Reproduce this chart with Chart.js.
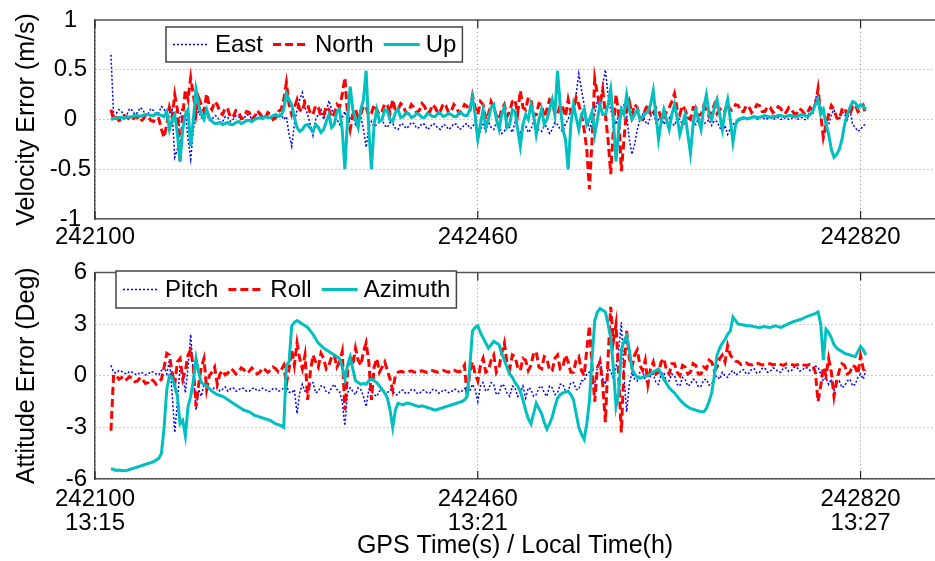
<!DOCTYPE html>
<html>
<head>
<meta charset="utf-8">
<script src="https://cdn.jsdelivr.net/npm/chart.js@4.4.1/dist/chart.umd.min.js"></script>
<style>
  html, body { margin: 0; padding: 0; background: #fff; overflow: hidden; width: 935px; height: 561px; }
  canvas { position: absolute; left: 0; }
  #vel { top: 0; }
  #att { top: 250px; }
</style>
</head>
<body>
<canvas id="vel" width="935" height="250"></canvas>
<canvas id="att" width="935" height="311"></canvas>
<script>
// GPS time axis: one sample every 2.5 s starting at 242115
var T0 = 242115, DT = 2.5;
var xTicks = [242100, 242460, 242820];
var localTimes = ['13:15', '13:21', '13:27'];
var velTicks = [-1, -0.5, 0, 0.5, 1];
var attTicks = [-6, -3, 0, 3, 6];

// velocity error (m/s)
var east = [
  0.65,0.04, 0.06,0.10, 0.08,0.04, 0.05,0.11, 0.09,0.05,
  0.07,0.12, 0.10,0.04, 0.06,0.11, 0.09,0.05, 0.07,0.13,
  0.11,0.03, 0.06,0.10, -0.38,-0.30, 0.05,0.12, 0.10,-0.20,
  -0.40,-0.10, 0.05,0.08, 0.02,0.07, 0.06,-0.01, 0.00,0.04,
  0.03,-0.03, -0.02,0.03, 0.02,-0.02, 0.00,0.04, 0.03,0.00,
  0.01,0.05, 0.04,0.01, 0.02,0.06, 0.05,0.02, 0.03,0.06,
  0.04,0.01, 0.02,0.06, 0.05,0.00, 0.03,-0.15, -0.27,-0.05,
  0.10,0.20, 0.27,0.12, 0.05,-0.05, -0.16,0.00, 0.05,0.10,
  0.00,0.08, 0.19,0.10, 0.05,0.00, -0.05,0.02, 0.08,-0.02,
  0.02,0.06, -0.05,0.00, 0.03,-0.10, -0.28,-0.08, -0.02,-0.07,
  -0.05,-0.02, 0.00,-0.06, -0.08,-0.03, -0.04,-0.09, -0.10,-0.04,
  -0.05,-0.09, -0.07,-0.03, -0.04,-0.09, -0.08,-0.04, -0.05,-0.10,
  -0.08,-0.04, -0.05,-0.09, -0.10,-0.05, -0.06,-0.10, -0.08,-0.04,
  -0.05,-0.10, -0.09,-0.05, -0.04,-0.09, -0.08,-0.02, -0.23,-0.10,
  -0.05,-0.12, -0.02,-0.08, -0.10,-0.03, -0.05,-0.14, -0.12,-0.04,
  -0.08,-0.13, -0.03,-0.09, -0.15,-0.05, -0.06,-0.13, -0.10,-0.02,
  -0.04,-0.11, -0.12,-0.06, -0.07,-0.14, -0.10,-0.03, -0.05,-0.10,
  -0.12,-0.04, 0.00,0.10, 0.05,0.25, 0.46,0.30, 0.15,0.00,
  -0.10,-0.02, 0.05,0.20, 0.10,0.35, 0.50,0.25, 0.10,0.00,
  -0.05,0.05, 0.12,0.15, 0.05,-0.20, -0.35,-0.25, -0.10,0.00,
  0.05,-0.02, -0.05,0.03, 0.08,-0.03, 0.00,0.04, -0.05,0.00,
  0.02,-0.04, -0.06,0.02, 0.00,-0.05, -0.04,0.02, 0.03,-0.03,
  -0.05,0.01, 0.00,-0.04, -0.03,0.00, -0.06,-0.01, -0.02,-0.08,
  -0.12,-0.06, -0.15,-0.09, -0.05,-0.02, 0.00,-0.01, 0.01,0.00,
  0.00,0.02, 0.02,0.00, 0.01,0.03, 0.00,0.01, 0.02,0.00,
  0.01,0.02, 0.00,0.01, 0.02,0.00, 0.01,0.03, 0.00,0.01,
  0.02,0.00, 0.00,0.10, 0.05,0.20, 0.29,0.12, 0.05,-0.02,
  -0.05,0.05, 0.10,0.02, 0.00,0.08, 0.05,0.00, 0.10,-0.05,
  -0.08,-0.12, -0.10,-0.06, -0.05];
var north = [
  0.10,0.00, 0.02,-0.01, 0.00,0.04, 0.03,0.00, -0.01,0.03,
  0.02,-0.02, 0.00,0.04, 0.03,-0.01, -0.02,0.02, 0.01,-0.10,
  -0.18,-0.05, 0.12,0.02, 0.25,0.10, -0.43,0.05, 0.30,0.20,
  0.42,0.25, 0.05,0.22, 0.15,0.08, 0.26,0.14, 0.10,0.18,
  0.15,0.07, 0.05,0.12, 0.10,0.02, 0.03,0.09, 0.08,0.01,
  0.02,0.08, 0.07,0.00, 0.03,0.09, 0.06,0.02, 0.01,0.07,
  0.05,0.00, 0.02,0.08, 0.10,0.20, 0.37,0.15, 0.05,0.12,
  0.20,0.10, 0.08,0.18, 0.15,0.06, 0.05,0.14, 0.12,0.03,
  0.04,0.13, 0.10,0.02, 0.06,0.15, 0.12,0.25, 0.42,0.05,
  -0.10,0.05, 0.10,0.02, 0.05,0.14, 0.12,0.04, 0.06,0.15,
  0.10,0.05, 0.08,0.16, 0.14,0.07, 0.20,0.09, 0.10,0.16,
  0.14,0.06, 0.08,0.15, 0.12,0.07, 0.09,0.16, 0.13,0.06,
  0.08,0.15, 0.12,0.06, 0.09,0.16, 0.14,0.07, 0.08,0.15,
  0.12,0.06, 0.09,0.15, 0.13,0.08, 0.24,0.12, 0.05,0.18,
  0.15,0.00, 0.05,0.18, 0.12,0.04, 0.00,0.10, 0.15,0.03,
  0.08,0.18, 0.20,0.06, 0.29,0.12, 0.10,0.22, 0.20,0.04,
  0.05,0.16, 0.15,0.02, 0.10,0.20, 0.18,0.06, 0.05,0.15,
  0.12,0.03, 0.20,0.08, 0.10,0.22, 0.15,0.05, -0.10,-0.30,
  -0.70,-0.20, 0.41,0.25, 0.15,0.30, 0.05,-0.20, -0.55,-0.10,
  0.25,0.05, -0.52,-0.20, 0.10,0.18, 0.05,0.15, 0.12,0.02,
  0.00,0.10, 0.15,0.04, 0.05,0.12, 0.10,0.00, 0.00,0.08,
  0.12,0.18, 0.26,0.10, 0.05,0.14, 0.10,0.02, 0.00,0.12,
  0.12,0.04, 0.05,0.14, 0.10,0.03, 0.08,0.15, 0.06,0.10,
  0.12,0.08, 0.16,0.09, 0.10,0.15, 0.14,0.08, 0.08,0.14,
  0.13,0.07, 0.10,0.15, 0.14,0.08, 0.08,0.13, 0.12,0.07,
  0.09,0.13, 0.11,0.06, 0.07,0.12, 0.10,0.06, 0.06,0.11,
  0.09,0.05, 0.07,0.12, 0.10,0.15, 0.31,0.05, -0.18,-0.05,
  0.05,0.14, 0.10,0.02, 0.00,0.10, 0.12,0.03, 0.05,0.13,
  0.15,0.08, 0.10,0.14, 0.05];
var up = [
  0.00,0.01, 0.01,0.02, 0.02,0.01, 0.03,0.02, 0.03,0.04,
  0.04,0.03, 0.04,0.05, 0.05,0.04, 0.04,0.06, 0.05,0.04,
  0.03,0.08, -0.10,0.00, 0.05,-0.15, -0.42,-0.10, 0.05,0.10,
  -0.27,0.00, 0.30,0.15, 0.05,0.00, 0.10,0.02, -0.02,-0.04,
  -0.04,-0.03, -0.05,-0.04, -0.03,-0.05, -0.05,-0.03, -0.02,-0.04,
  -0.03,-0.01, -0.01,-0.02, 0.00,0.01, 0.02,0.01, 0.03,0.02,
  0.02,0.04, 0.05,0.03, 0.04,0.10, 0.26,0.20, 0.15,0.02,
  -0.08,-0.12, -0.10,-0.06, -0.05,-0.09, -0.12,-0.05, -0.08,-0.13,
  -0.10,-0.02, 0.05,-0.08, -0.05,0.08, 0.10,-0.10, -0.50,0.00,
  0.33,0.10, 0.00,-0.08, 0.10,0.20, 0.49,-0.10, -0.50,-0.05,
  0.10,-0.02, 0.00,0.10, 0.08,0.00, -0.02,0.07, 0.10,0.02,
  0.03,0.07, 0.06,0.02, 0.03,0.06, 0.05,0.02, 0.02,0.06,
  0.05,0.03, 0.03,0.06, 0.06,0.03, 0.04,0.06, 0.05,0.03,
  0.03,0.07, 0.06,0.04, 0.04,0.10, 0.22,0.05, -0.20,-0.05,
  0.10,-0.08, 0.00,0.12, 0.15,0.00, -0.10,0.05, 0.12,-0.08,
  -0.05,0.10, 0.08,-0.10, -0.27,-0.05, 0.05,0.00, 0.15,0.05,
  -0.15,0.00, 0.10,-0.05, 0.00,0.10, 0.20,0.05, 0.49,0.15,
  -0.10,-0.20, -0.50,-0.05, 0.15,0.02, -0.10,0.05, 0.10,-0.05,
  0.00,0.08, -0.15,0.00, 0.15,0.05, 0.05,0.15, 0.30,0.00,
  -0.42,-0.10, 0.10,0.05, 0.25,0.10, 0.00,0.05, 0.10,0.00,
  0.02,0.06, 0.08,0.15, 0.29,0.05, -0.20,-0.02, 0.10,0.00,
  -0.10,0.05, 0.15,0.02, -0.15,-0.05, 0.05,-0.15, -0.34,-0.05,
  0.10,0.00, -0.10,0.12, 0.25,0.05, 0.00,0.12, 0.20,0.05,
  -0.10,0.08, 0.20,0.00, -0.23,-0.05, 0.00,0.01, 0.02,0.01,
  0.01,0.02, 0.03,0.02, 0.02,0.03, 0.04,0.03, 0.02,0.03,
  0.03,0.04, 0.04,0.03, 0.03,0.04, 0.04,0.03, 0.03,0.04,
  0.05,0.04, 0.03,0.05, 0.08,0.15, 0.20,0.05, 0.10,-0.05,
  -0.15,-0.30, -0.38,-0.35, -0.30,-0.20, -0.05,0.05, 0.12,0.18,
  0.17,0.12, 0.15,0.13, 0.10];

// attitude error (deg)
var pitch = [
  0.60,0.20, 0.15,0.30, 0.25,0.15, 0.10,0.25, 0.20,0.10,
  0.05,0.20, 0.15,0.05, 0.10,0.25, 0.20,0.10, 0.05,0.30,
  0.50,0.10, 0.90,-1.00, -3.30,-1.50, 0.50,0.20, -1.00,0.50,
  2.40,0.00, -2.00,-0.80, -1.20,-0.50, -0.60,-0.80, -0.90,-0.65,
  -0.70,-0.90, -0.80,-0.65, -0.90,-0.75, -0.70,-0.90, -0.85,-0.70,
  -0.75,-0.90, -0.90,-0.75, -0.70,-0.88, -0.85,-0.72, -0.80,-0.92,
  -0.90,-0.75, -0.75,-0.90, -0.85,-0.70, -0.60,-0.95, -1.00,-0.80,
  -2.20,-1.00, -0.50,-0.90, -0.80,-0.50, -0.40,-1.00, -0.90,-0.60,
  -0.60,-0.95, -1.00,-0.70, -0.50,-0.80, -0.90,-1.50, -2.90,-1.00,
  -0.70,-0.90, -1.10,-0.70, -0.80,-1.20, -1.80,-0.80, -0.90,-1.10,
  -1.20,-0.90, -0.80,-1.05, -1.00,-0.80, -0.90,-1.10, -1.10,-0.85,
  -0.85,-1.05, -1.00,-0.80, -0.80,-1.00, -1.05,-0.85, -0.85,-1.00,
  -1.00,-0.80, -0.80,-1.00, -1.00,-0.82, -0.85,-0.98, -0.95,-0.78,
  -0.80,-0.95, -0.90,-0.75, -0.70,-0.90, -0.50,-0.80, -1.50,-0.60,
  -0.40,-0.90, -0.80,-0.40, -0.50,-1.10, -1.00,-0.50, -0.60,-1.00,
  -1.20,-0.60, -0.70,-1.20, -1.00,-0.60, -1.30,-0.70, -0.80,-1.20,
  -1.10,-0.70, -0.60,-1.00, -1.20,-0.60, -0.70,-1.10, -1.00,-0.50,
  -0.50,-0.90, -0.90,-0.40, -0.40,-0.80, -0.80,-0.30, -0.30,0.10,
  0.20,-0.40, -0.60,0.50, 1.00,-0.20, -0.50,0.40, 0.30,-0.20,
  0.50,1.50, 3.10,0.00, -2.10,-0.50, 0.20,-0.20, -0.30,0.20,
  0.30,-0.30, -0.40,0.00, 0.10,-0.40, -0.50,0.10, 0.20,-0.40,
  -0.30,0.10, 0.00,-0.50, -0.60,-0.10, -0.20,-0.60, -0.50,-0.20,
  -0.30,-0.65, -0.60,-0.25, -0.20,-0.55, -0.50,-0.10, 0.00,-0.20,
  0.20,0.00, -0.10,0.20, 0.30,0.05, 0.10,0.30, 0.35,0.10,
  0.15,0.38, 0.40,0.15, 0.20,0.42, 0.45,0.20, 0.25,0.45,
  0.40,0.22, 0.20,0.45, 0.45,0.25, 0.30,0.50, 0.50,0.28,
  0.30,0.48, 0.45,0.30, 0.35,0.55, 0.50,0.10, -0.30,-0.10,
  -0.50,-0.20, -0.90,-0.40, -0.30,-0.70, -0.60,-0.30, -0.20,-0.60,
  -0.50,-0.10, 0.10,-0.20, 0.30];
var roll = [
  -3.20,0.05, 0.00,-0.20, -0.10,-0.30, -0.20,-0.05, -0.15,-0.35,
  -0.30,-0.10, -0.25,-0.45, -0.40,-0.20, -0.30,-0.50, -0.35,-0.20,
  0.50,1.30, 1.20,0.20, -0.50,0.80, 1.00,-0.20, 0.30,1.20,
  1.50,0.50, -1.80,-0.50, 0.50,1.00, -0.80,0.00, 0.20,0.50,
  -0.50,0.10, 0.30,0.05, 0.15,0.40, 0.30,0.10, 0.20,0.45,
  0.35,0.15, 0.25,0.45, 0.30,0.10, 0.20,0.45, 0.35,0.20,
  0.30,0.50, 0.40,0.20, 0.30,0.60, -0.50,0.40, 1.50,0.60,
  1.90,1.00, 0.40,1.20, -1.40,0.20, 1.20,0.80, 0.50,1.30,
  1.00,0.40, 0.60,1.10, 1.20,0.50, 0.80,1.40, -2.00,0.20,
  1.20,0.60, 1.60,0.90, 0.60,1.40, 1.90,0.80, -1.40,0.50,
  1.00,0.20, 0.50,0.80, 0.30,-0.20, -0.85,0.00, 0.20,0.26,
  0.22,0.19, 0.24,0.28, 0.22,0.18, 0.25,0.29, 0.23,0.19,
  0.26,0.30, 0.24,0.20, 0.27,0.31, 0.25,0.21, 0.28,0.32,
  0.26,0.22, 0.30,0.60, -1.20,0.20, 0.80,0.10, -0.30,0.60,
  1.00,0.20, 0.30,0.90, 1.20,0.20, 0.50,1.30, 1.90,0.70,
  0.40,1.20, 1.10,0.50, 0.30,1.00, 0.90,0.30, 0.60,1.30,
  1.40,0.50, 0.40,1.10, 1.00,0.30, 0.30,1.00, 1.20,0.40,
  0.50,1.20, 0.80,0.20, 0.20,0.90, 1.10,0.30, 0.00,1.50,
  2.90,0.50, -1.50,0.50, 0.80,-0.50, -2.70,1.00, 4.00,2.00,
  3.00,0.00, -3.30,0.50, 2.60,1.00, 0.50,1.20, 1.50,0.60,
  0.30,0.90, -0.50,0.40, 0.80,0.10, 0.20,0.80, 1.00,0.30,
  0.10,0.70, 0.70,0.20, 0.00,0.60, 0.50,0.10, 0.20,0.70,
  0.60,0.10, 0.10,0.50, 0.40,0.90, 0.80,0.30, 0.50,1.00,
  1.20,0.80, 1.75,1.20, 1.00,0.85, 0.80,0.65, 0.70,0.75,
  0.65,0.62, 0.70,0.72, 0.68,0.62, 0.65,0.70, 0.70,0.63,
  0.66,0.70, 0.64,0.60, 0.68,0.70, 0.65,0.61, 0.62,0.68,
  0.66,0.60, 0.60,0.66, 0.62,0.20, -1.50,-0.60, 0.50,0.00,
  1.00,0.20, -1.20,-0.30, 0.30,0.70, 0.60,0.10, 0.20,0.60,
  0.50,0.10, 1.15,0.40, 0.10];
var azimuth = [
  -5.40,-5.45, -5.50,-5.48, -5.50,-5.52, -5.50,-5.45, -5.40,-5.35,
  -5.30,-5.25, -5.20,-5.15, -5.10,-5.05, -5.00,-4.90, -4.80,-4.50,
  -3.00,-0.80, 0.00,-0.10, -0.60,-1.20, -2.80,-2.60, -3.50,-1.80,
  -1.20,-0.30, 1.00,0.20, -0.40,-0.50, -0.60,-0.75, -0.90,-1.00,
  -1.10,-1.15, -1.20,-1.30, -1.40,-1.50, -1.60,-1.70, -1.80,-1.90,
  -2.00,-2.05, -2.10,-2.20, -2.30,-2.35, -2.40,-2.45, -2.50,-2.55,
  -2.60,-2.70, -2.80,-2.85, -2.90,-3.00, 0.60,0.80, 2.90,3.10,
  3.20,3.10, 3.00,2.90, 2.80,2.60, 2.40,2.15, 1.90,1.75,
  1.60,1.50, 1.40,1.30, 1.20,1.10, 1.00,0.50, -0.20,0.60,
  1.10,0.40, -0.30,-0.40, -0.50,-0.45, -0.50,-0.30, -0.20,-0.30,
  -0.40,-0.60, -0.80,-1.00, -1.30,-2.00, -3.00,-2.00, -1.60,-1.65,
  -1.70,-1.60, -1.60,-1.65, -1.70,-1.75, -1.80,-1.75, -1.80,-1.85,
  -1.90,-1.95, -2.00,-1.95, -1.90,-1.85, -1.80,-1.75, -1.70,-1.65,
  -1.60,-1.55, -1.50,-1.40, -1.20,0.50, 2.60,2.80, 2.90,2.50,
  2.20,1.90, 1.60,1.80, 2.00,1.90, 1.80,1.30, 0.90,0.50,
  0.10,-0.10, -0.40,-0.60, -0.90,-1.40, -2.00,-2.50, -2.80,-2.20,
  -1.60,-1.90, -2.20,-2.70, -3.10,-2.80, -2.40,-1.80, -1.30,-1.10,
  -1.00,-0.95, -0.90,-1.10, -1.40,-2.20, -3.00,-3.40, -3.70,-2.80,
  -1.50,1.00, 3.20,3.70, 3.90,3.80, 3.70,3.00, 2.20,0.50,
  -1.80,-1.00, 1.50,2.00, 2.30,1.50, 0.40,0.10, -0.10,-0.15,
  -0.10,-0.05, 0.00,0.10, 0.20,0.30, 0.40,0.10, -0.20,-0.45,
  -0.70,-0.85, -1.00,-1.20, -1.40,-1.55, -1.70,-1.80, -1.90,-1.95,
  -2.00,-2.05, -2.10,-2.10, -1.90,-1.50, -1.00,0.00, 1.20,1.60,
  1.90,2.10, 2.40,2.60, 3.40,3.20, 3.00,2.98, 2.95,2.92,
  2.90,2.88, 2.85,2.82, 2.80,2.83, 2.85,2.82, 2.80,2.85,
  2.90,2.85, 2.80,2.88, 2.95,3.02, 3.10,3.15, 3.20,3.25,
  3.30,3.38, 3.45,3.50, 3.55,3.62, 3.70,3.00, 0.90,2.70,
  2.50,2.20, 1.80,1.60, 1.50,1.40, 1.30,1.25, 1.20,1.15,
  1.10,1.40, 1.70,1.50, 1.20];

var times = east.map(function (_, i) { return T0 + i * DT; });
function pts(vals) {
  return vals.map(function (v, i) { return { x: times[i], y: v }; });
}

Chart.defaults.font.family = "'Liberation Sans', Arial, sans-serif";
Chart.defaults.color = '#000';

// boxed legend inside the plot, like matlab
var boxLegend = {
  id: 'boxLegend',
  afterDraw: function (chart, args, opts) {
    var ctx = chart.ctx;
    var ds = chart.data.datasets;
    ctx.save();
    ctx.font = "24px 'Liberation Sans', Arial, sans-serif";
    var w = 7;
    ds.forEach(function (d) { w += 42 + ctx.measureText(d.label).width + 10; });
    w = w - 10 + 6;
    ctx.fillStyle = '#fff';
    ctx.fillRect(opts.left, opts.top, w, opts.height);
    ctx.strokeStyle = '#444';
    ctx.lineWidth = 1.5;
    ctx.strokeRect(opts.left, opts.top, w, opts.height);
    var x = opts.left + 7;
    var yc = opts.top + opts.height / 2;
    ds.forEach(function (d) {
      ctx.setLineDash(d.borderDash || []);
      ctx.strokeStyle = d.borderColor;
      ctx.lineWidth = d.borderWidth;
      ctx.beginPath();
      ctx.moveTo(x, yc);
      ctx.lineTo(x + 36, yc);
      ctx.stroke();
      ctx.setLineDash([]);
      ctx.fillStyle = '#000';
      ctx.textBaseline = 'middle';
      ctx.fillText(d.label, x + 42, yc + 1);
      x += 42 + ctx.measureText(d.label).width + 10;
    });
    ctx.restore();
  }
};

// top border + inward tick marks
var frame = {
  id: 'frame',
  afterDatasetsDraw: function (chart) {
    var ctx = chart.ctx, a = chart.chartArea, xs = chart.scales.x;
    ctx.save();
    ctx.strokeStyle = '#555';
    ctx.lineWidth = 1.5;
    ctx.beginPath();
    ctx.moveTo(a.left, a.top);
    ctx.lineTo(a.right, a.top);
    ctx.stroke();
    ctx.strokeStyle = '#222';
    ctx.lineWidth = 1.2;
    ctx.beginPath();
    xTicks.forEach(function (v) {
      var px = xs.getPixelForValue(v);
      ctx.moveTo(px, a.bottom);
      ctx.lineTo(px, a.bottom - 8);
      ctx.moveTo(px, a.top);
      ctx.lineTo(px, a.top + 8);
    });
    ctx.stroke();
    ctx.restore();
  }
};

function lineSet(label, vals, color, width, dash, order) {
  return {
    label: label,
    data: pts(vals),
    borderColor: color,
    borderWidth: width,
    borderDash: dash,
    pointRadius: 0,
    tension: 0,
    fill: false,
    order: order
  };
}

function makeOpts(o) {
  return {
    responsive: false,
    animation: false,
    devicePixelRatio: 1,
    layout: { padding: { left: 0, right: 0, top: o.padTop, bottom: 0 } },
    plugins: {
      legend: { display: false },
      tooltip: { enabled: false },
      boxLegend: o.legend
    },
    scales: {
      x: {
        type: 'linear',
        min: 242100,
        max: 242890,
        afterBuildTicks: function (s) { s.ticks = xTicks.map(function (v) { return { value: v }; }); },
        afterFit: function (s) { s.height = o.xHeight; },
        grid: { color: '#999', lineWidth: 1, drawTicks: false },
        border: { color: '#555', width: 1.5, dash: [1, 3] },
        ticks: {
          autoSkip: false,
          maxRotation: 0,
          padding: o.xPad,
          font: { size: 24, lineHeight: 1.0 },
          callback: o.xLabel
        },
        title: o.xTitle
      },
      y: {
        min: o.yTicks[0],
        max: o.yTicks[o.yTicks.length - 1],
        afterBuildTicks: function (s) { s.ticks = o.yTicks.map(function (v) { return { value: v }; }); },
        afterFit: function (s) { s.width = 95; },
        grid: { color: '#999', lineWidth: 1, drawTicks: false },
        border: { color: '#555', width: 1.5, dash: [1, 3] },
        ticks: {
          padding: o.yPad,
          crossAlign: o.yAlign,
          font: { size: 24 },
          callback: function (v) { return String(v); }
        },
        title: {
          display: true,
          text: o.yTitle,
          font: { size: 25 },
          padding: { top: 12, bottom: 0 }
        }
      }
    }
  };
}

new Chart(document.getElementById('vel').getContext('2d'), {
  type: 'line',
  data: {
    datasets: [
      lineSet('East', east, '#0000ff', 1.5, [2, 2], 3),
      lineSet('North', north, '#ff0000', 3, [8, 4], 2),
      lineSet('Up', up, '#00bfbf', 3, [], 1)
    ]
  },
  options: makeOpts({
    padTop: 20,
    xHeight: 31,
    xPad: 6,
    xLabel: function (v) { return String(v); },
    xTitle: { display: false },
    yTicks: velTicks,
    yPad: 4,
    yAlign: 'center',
    yTitle: 'Velocity Error (m/s)',
    legend: { left: 166, top: 27, height: 35 }
  }),
  plugins: [frame, boxLegend]
});

new Chart(document.getElementById('att').getContext('2d'), {
  type: 'line',
  data: {
    datasets: [
      lineSet('Pitch', pitch, '#0000ff', 1.5, [2, 2], 3),
      lineSet('Roll', roll, '#ff0000', 3, [8, 4], 2),
      lineSet('Azimuth', azimuth, '#00bfbf', 3, [], 1)
    ]
  },
  options: makeOpts({
    padTop: 10,
    xHeight: 82,
    xPad: 8,
    xLabel: function (v) {
      var k = xTicks.indexOf(v);
      return [String(v), localTimes[k]];
    },
    xTitle: {
      display: true,
      text: 'GPS Time(s) / Local Time(h)',
      font: { size: 25 },
      padding: { top: 0, bottom: 0 }
    },
    yTicks: attTicks,
    yPad: 8,
    yAlign: 'near',
    yTitle: 'Attitude Error (Deg)',
    legend: { left: 116, top: 21, height: 37 }
  }),
  plugins: [frame, boxLegend]
});
</script>
</body>
</html>
